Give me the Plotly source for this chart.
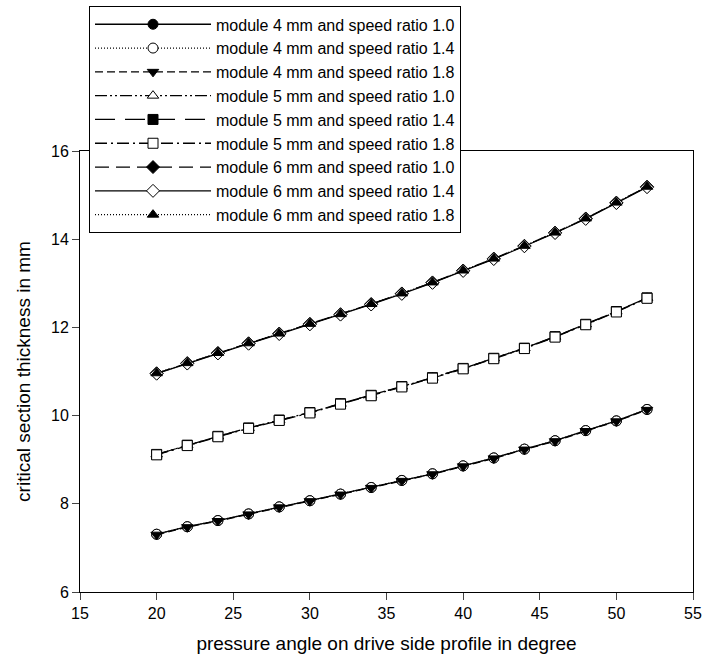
import plotly.graph_objects as go

# pressure angle on drive side profile (degree)
pressure_angle = [20, 22, 24, 26, 28, 30, 32, 34, 36, 38, 40, 42, 44, 46, 48, 50, 52]

# critical section thickness (mm)
m4_r10 = [7.31, 7.48, 7.62, 7.77, 7.93, 8.07, 8.22, 8.37, 8.53, 8.68, 8.86, 9.04, 9.24, 9.43, 9.66, 9.88, 10.14]
m4_r14 = [7.31, 7.48, 7.62, 7.77, 7.93, 8.07, 8.22, 8.37, 8.53, 8.68, 8.86, 9.04, 9.24, 9.43, 9.66, 9.88, 10.14]
m4_r18 = [7.30, 7.47, 7.61, 7.76, 7.92, 8.06, 8.21, 8.36, 8.52, 8.67, 8.85, 9.03, 9.23, 9.42, 9.65, 9.87, 10.13]
m5_r10 = [9.12, 9.33, 9.53, 9.72, 9.90, 10.07, 10.27, 10.46, 10.66, 10.86, 11.07, 11.30, 11.53, 11.79, 12.07, 12.36, 12.67]
m5_r14 = [9.12, 9.33, 9.53, 9.72, 9.90, 10.07, 10.27, 10.46, 10.66, 10.86, 11.07, 11.30, 11.53, 11.79, 12.07, 12.36, 12.67]
m5_r18 = [9.11, 9.32, 9.52, 9.71, 9.89, 10.06, 10.26, 10.45, 10.65, 10.85, 11.06, 11.29, 11.52, 11.78, 12.06, 12.35, 12.66]
m6_r10 = [10.96, 11.19, 11.42, 11.64, 11.86, 12.08, 12.30, 12.53, 12.77, 13.02, 13.29, 13.56, 13.85, 14.15, 14.47, 14.83, 15.19]
m6_r14 = [10.95, 11.18, 11.41, 11.63, 11.85, 12.07, 12.29, 12.52, 12.76, 13.01, 13.28, 13.55, 13.84, 14.14, 14.46, 14.82, 15.18]
m6_r18 = [10.96, 11.19, 11.42, 11.64, 11.86, 12.08, 12.30, 12.53, 12.77, 13.02, 13.29, 13.56, 13.85, 14.15, 14.47, 14.83, 15.19]

labels = [
    "module 4 mm and speed ratio 1.0",
    "module 4 mm and speed ratio 1.4",
    "module 4 mm and speed ratio 1.8",
    "module 5 mm and speed ratio 1.0",
    "module 5 mm and speed ratio 1.4",
    "module 5 mm and speed ratio 1.8",
    "module 6 mm and speed ratio 1.0",
    "module 6 mm and speed ratio 1.4",
    "module 6 mm and speed ratio 1.8",
]
series = [m4_r10, m4_r14, m4_r18, m5_r10, m5_r14, m5_r18, m6_r10, m6_r14, m6_r18]

styles = [
    ("circle", "black", "solid"),
    ("circle", "white", "1px,2px"),
    ("triangle-down", "black", "8px,4px"),
    ("triangle-up", "white", "12px,3px,2px,3px,2px,3px"),
    ("square", "black", "20px,10px"),
    ("square", "white", "12px,4px,2px,4px"),
    ("diamond", "black", "14px,7px"),
    ("diamond", "white", "solid"),
    ("triangle-up", "black", "1px,2px"),
]

fig = go.Figure()
for name, ys, (sym, fill, dash) in zip(labels, series, styles):
    fig.add_trace(go.Scatter(
        x=pressure_angle, y=ys, name=name, mode="lines+markers",
        line=dict(color="black", width=1.3, dash=dash),
        marker=dict(symbol=sym, size=10, color=fill, line=dict(color="black", width=1)),
    ))

font_family = "Arial, Liberation Sans, sans-serif"
fig.update_layout(
    width=704, height=670,
    margin=dict(l=80, r=11, t=151, b=78, autoexpand=False),
    paper_bgcolor="white", plot_bgcolor="white",
    font=dict(family=font_family, color="black", size=16),
    showlegend=True,
    legend=dict(
        x=0.0147, y=1.328, xanchor="left", yanchor="top",
        bordercolor="black", borderwidth=1, bgcolor="white",
        font=dict(size=16), itemwidth=116, tracegroupgap=0,
    ),
    xaxis=dict(
        range=[15, 55], dtick=5, tick0=15, ticks="outside", ticklen=7,
        showline=True, linecolor="black", linewidth=1, mirror=True,
        showgrid=False, zeroline=False, automargin=False,
        title=dict(text="pressure angle on drive side profile in degree"),
        tickfont=dict(size=16),
    ),
    yaxis=dict(
        range=[6, 16], dtick=2, tick0=6, ticks="outside", ticklen=7,
        showline=True, linecolor="black", linewidth=1, mirror=True,
        showgrid=False, zeroline=False, automargin=False,
        title=dict(text="critical section thickness in mm"),
        tickfont=dict(size=16),
    ),
)

fig.write_html("out.html")
